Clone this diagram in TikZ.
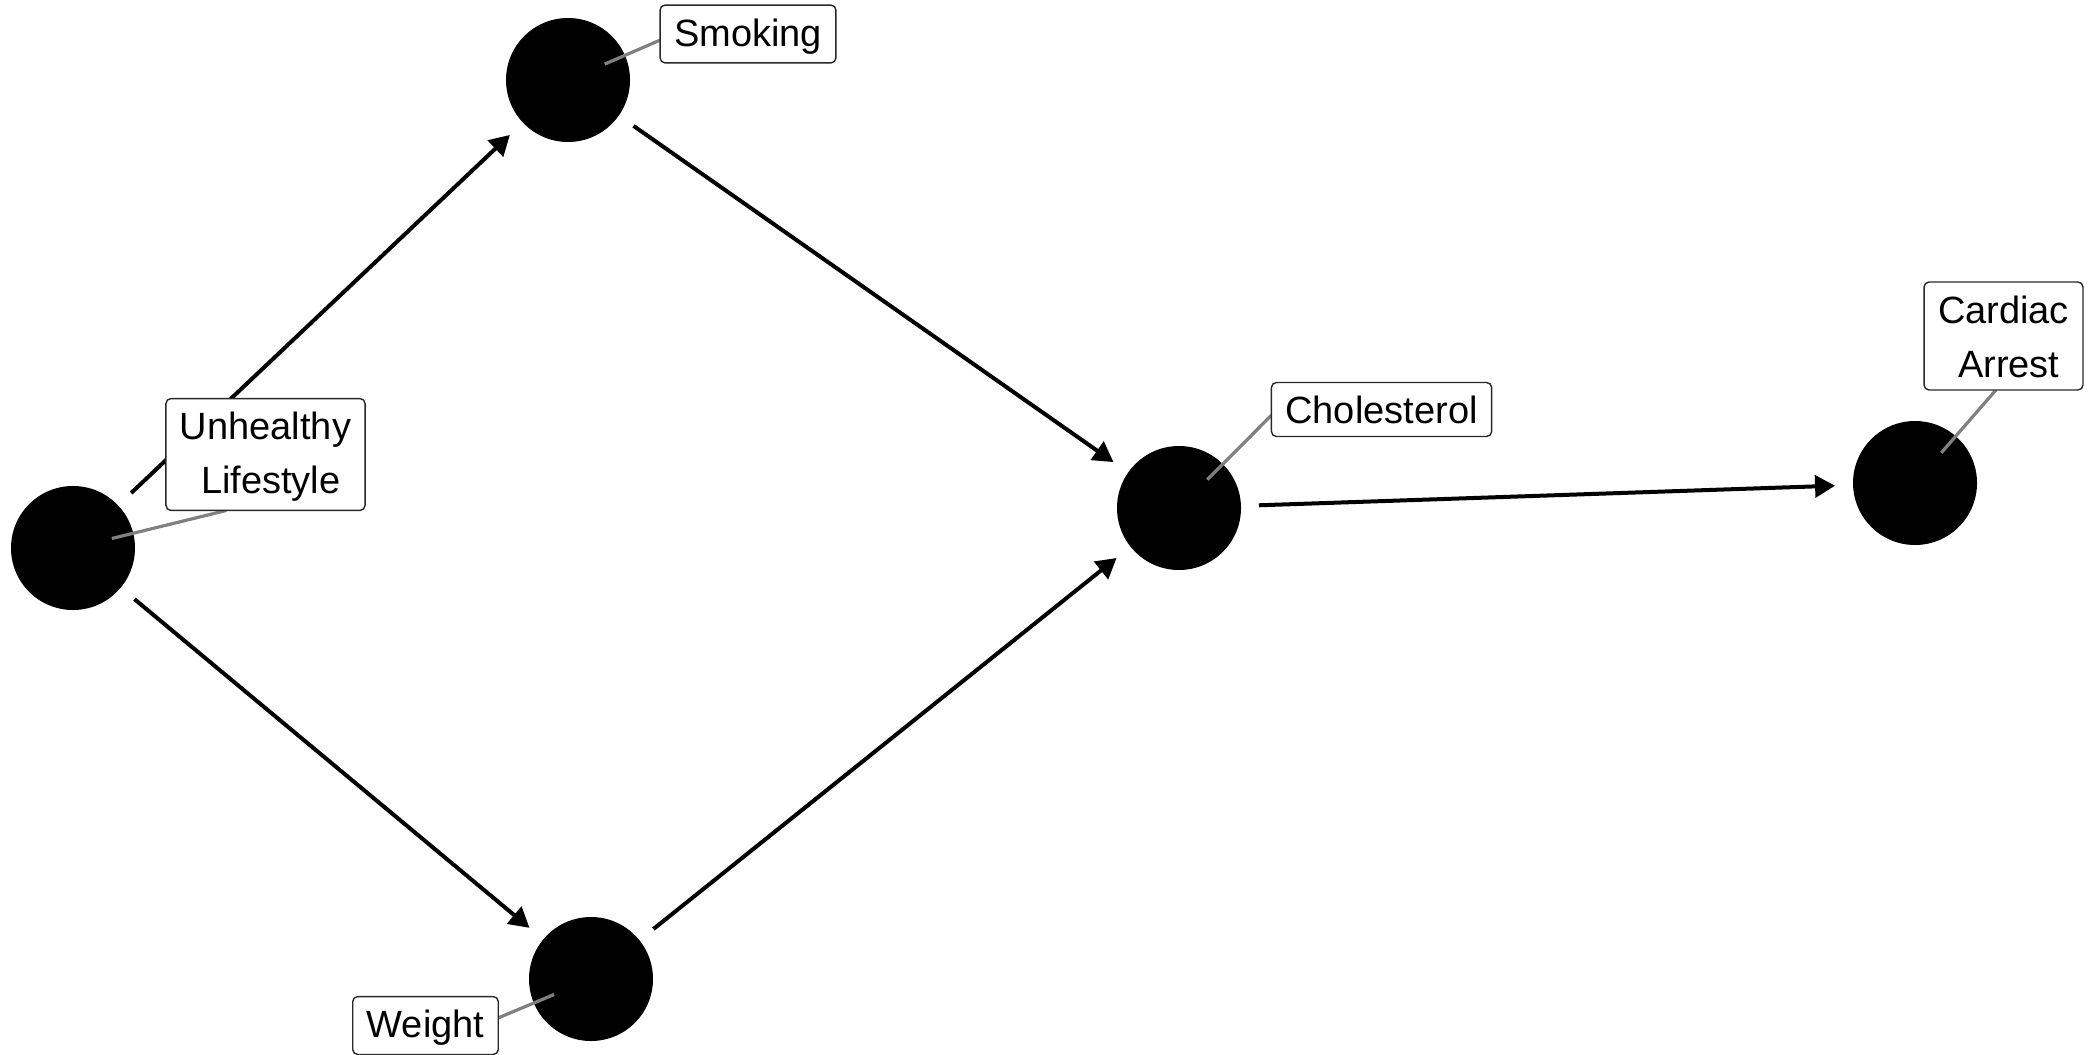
\documentclass[tikz,border=0pt]{standalone}
\usepackage{fontspec}
\setmainfont{Liberation Sans}
\usetikzlibrary{arrows.meta, positioning, calc}
\definecolor{leadgray}{RGB}{128, 128, 128}
\definecolor{boxline}{RGB}{40, 40, 40}
\newcommand{\lblstrut}{\rule[-2pt]{0pt}{18pt}}
\pgfdeclarelayer{background}
\pgfdeclarelayer{foreground}
\pgfsetlayers{background,main,foreground}

\begin{document}
\begin{tikzpicture}[
        x=0.5pt, y=-0.5pt,
        var/.style={circle, fill=black, minimum size=62pt, inner sep=0pt, outer sep=9pt},
        tag/.style={rectangle, draw=boxline, line width=0.7pt, fill=white, rounded corners=2.5pt, inner xsep=7pt, inner ysep=4.5pt, outer sep=0pt, align=center, font=\fontsize{19}{27}\selectfont},
        effect/.style={-{Triangle[length=10pt, width=11pt]}, line width=2pt, draw=black},
        leader/.style={line width=1.6pt, draw=leadgray, shorten <=20pt}
    ]
        \useasboundingbox (0,0) rectangle (2096,1054);

        % Nodes
        \begin{pgfonlayer}{background}
        \node[var] (lifestyle) at (73, 548) {};
        \node[var] (smoking) at (568, 80) {};
        \node[var] (weight) at (591, 979) {};
        \node[var] (chol) at (1179, 508) {};
        \node[var] (arrest) at (1915, 483) {};
        \end{pgfonlayer}

        \begin{pgfonlayer}{foreground}
        \node[tag] (lifestyle_lbl) at (265.5, 454.5) {\lblstrut Unhealthy\\\lblstrut\mbox{}\ Lifestyle};
        \node[tag] (smoking_lbl) at (748, 34) {\lblstrut Smoking};
        \node[tag] (weight_lbl) at (425.5, 1025.5) {\lblstrut Weight};
        \node[tag] (chol_lbl) at (1381.5, 409.5) {\lblstrut Cholesterol};
        \node[tag] (arrest_lbl) at (2003.5, 336) {\lblstrut Cardiac\\\lblstrut\mbox{}\ Arrest};
        \end{pgfonlayer}

        % Edges
        \draw[effect] (lifestyle) -- (smoking);
        \draw[effect] (lifestyle) -- (weight);
        \draw[effect] (smoking) -- (chol);
        \draw[effect] (weight) -- (chol);
        \draw[effect] (chol) -- (arrest);

        % Label leaders
        \draw[leader] (lifestyle.center) -- (lifestyle_lbl.235);
        \draw[leader] (smoking.center) -- (smoking_lbl.184);
        \draw[leader] (weight.center) -- (weight_lbl.6.5);
        \draw[leader] (chol.center) -- (chol_lbl.183);
        \draw[leader] (arrest.center) -- (arrest_lbl.262);

    \end{tikzpicture}
\end{document}
